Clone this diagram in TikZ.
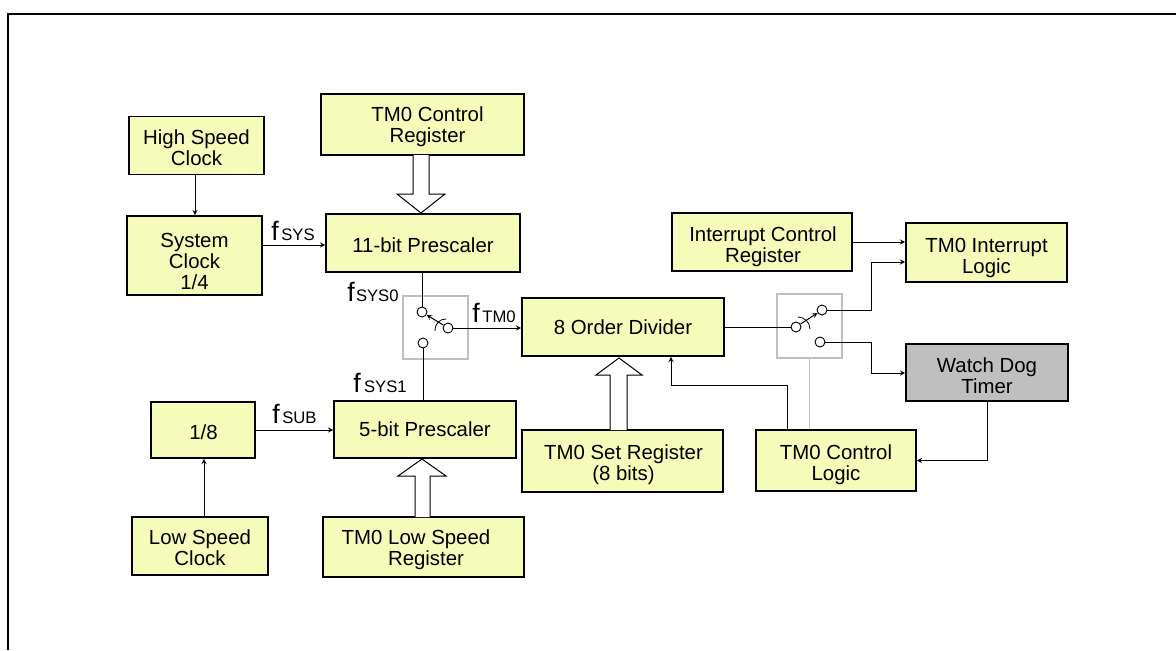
\documentclass[tikz,border=0pt]{standalone}
\usepackage{fontspec}
\setmainfont{Liberation Sans}
\usetikzlibrary{arrows}
\definecolor{boxyellow}{HTML}{F5FBB9}
\definecolor{boxgray}{HTML}{BFBFBF}
\tikzstyle{block}=[rectangle,draw,line width=1.3pt,inner sep=0pt]
\tikzstyle{blocktext}=[inner sep=0pt,align=center,font=\fontsize{15.3}{15.75}\selectfont]
\tikzstyle{contact}=[circle,draw,fill=white,line width=0.7pt,minimum size=7.5pt,inner sep=0pt]
\tikzstyle{switchbox}=[rectangle,draw=boxgray,line width=1.3pt,inner sep=0pt]
\tikzstyle{signal}=[draw,->,>=stealth,line width=0.75pt]
\tikzstyle{wire}=[draw,-,line width=0.75pt]
\tikzstyle{hollow}=[draw,fill=white,line width=0.75pt]
\newcommand{\freq}[2]{{\fontsize{20}{20}\selectfont f}\hspace{#1}{\fontsize{12.5}{12.5}\selectfont #2}}
\tikzstyle{freqlabel}=[anchor=base west,inner sep=0pt]
\begin{document}
\begin{tikzpicture}[x=0.75pt,y=-0.75pt]
      \useasboundingbox (0,0) rectangle (1176,650);
      \draw[line width=1.5pt] (1176,14) -- (8,14) -- (8,650);
      %blocks
      \foreach \blockname/\x/\y/\w/\h/\tint/\dx/\dy/\label in {
        hsclock/196.5/145.5/135/58/boxyellow/0/2.5/{High Speed\\Clock},
        sysclock/194.5/255.5/135/79/boxyellow/0/6/{System\\Clock\\1/4},
        tmcreg/422.5/124.5/203/61/boxyellow/5/2/{TM0 Control\\Register},
        pre11/423/243/194/58/boxyellow/0/2/{11-bit Prescaler},
        divider/623/327/202/58/boxyellow/0/0/{8 Order Divider},
        pre5/425/429.5/182/57/boxyellow/0/0/{5-bit Prescaler},
        div8/203/430/104/56/boxyellow/0.5/2/{1/8},
        lsclock/200/546/136/58/boxyellow/0/2/{Low Speed\\Clock},
        tmlreg/423.5/547/201/60/boxyellow/-7.5/3/{TM0 Low Speed\\\hspace*{15pt}Register},
        tmsreg/622.5/461/201/62/boxyellow/1/4/{TM0 Set Register\\(8 bits)},
        tmclogic/836/460.5/160/61/boxyellow/0/4/{TM0 Control\\Logic},
        wdtimer/987/372.5/162/57/boxgray/0/3/{Watch Dog\\Timer},
        intreg/762/242/180/58/boxyellow/1/4.5/{Interrupt Control\\Register},
        tmint/986.5/252.5/161/59/boxyellow/0/5.5/{TM0 Interrupt\\Logic}}
      {
        \node[block, fill=\tint, minimum width=\w*0.75pt, minimum height=\h*0.75pt] (\blockname) at (\x,\y) {};
        \node[blocktext] at ([shift={(\dx,\dy)}]\blockname.center) {\label};
      };
      %switches
      \node[switchbox, minimum width=48.75pt, minimum height=47.25pt] (sw1box) at (435.5,327.5) {};
      \node[switchbox, minimum width=48.75pt, minimum height=48pt] (sw2box) at (809.5,326) {};
      \foreach \contactname/\x/\y in {
        sw1a/422/312, sw1b/448/328, sw1c/423/343,
        sw2a/796/327, sw2b/822/310, sw2c/820/342}
      {
        \node[contact] (\contactname) at (\x,\y) {};
      };
      \draw[signal] (sw1b) -- (sw1a);
      \draw[signal] (sw2a) -- (sw2b);
      \draw[line width=0.6pt] (446,319) .. controls (440,319) and (435,323) .. (435,331);
      \draw[line width=0.6pt] (798,317) .. controls (804,317) and (810,322) .. (810,329);
      %rails
      \coordinate (railsys) at (195,245);
      \coordinate (railsub) at (204,430);
      \coordinate (railint) at (871,262);
      \coordinate (railwdt) at (871,373);
      \coordinate (raillogic) at (787,385);
      \coordinate (raildiv) at (671,385);
      %edges
      \path[signal] (hsclock.south -| railsys) -- (sysclock.north -| railsys);
      \path[signal] (sysclock.east |- railsys) -- (pre11.west |- railsys);
      \path[signal] (lsclock.north -| railsub) -- (div8.south -| railsub);
      \path[signal] (div8.east |- railsub) -- (pre5.west |- railsub);
      \path[wire] (pre11.south -| sw1a) -- (sw1a);
      \path[wire] (pre5.north -| sw1c) -- (sw1c);
      \path[signal] (sw1b) -- (divider.west |- sw1b);
      \path[wire] (divider.east |- sw2a) -- (sw2a);
      \path[signal] (intreg.east) -- (tmint.west |- intreg.east);
      \path[signal] (sw2b) -- (railint |- sw2b) -- (railint) -- (tmint.west |- railint);
      \path[signal] (sw2c) -- (railwdt |- sw2c) -- (railwdt) -- (wdtimer.west |- railwdt);
      \path[signal] (wdtimer.south) |- (tmclogic.east);
      \path[signal] (tmclogic.north -| raillogic) -- (raillogic) -- (raildiv) -- (divider.south -| raildiv);
      \draw[line width=1.3pt,draw=boxgray] (sw2box.south) -- (sw2box.south |- tmclogic.north);
      %bus arrows
      \draw[hollow] (413,155) -- (413,194) -- (397,194) -- (421,213) -- (445,194) -- (429,194) -- (429,155);
      \draw[hollow] (415,517) -- (415,476) -- (398,476) -- (422,459) -- (446,476) -- (430,476) -- (430,517);
      \draw[hollow] (610,430) -- (610,375) -- (596,375) -- (619,358) -- (642,375) -- (627,375) -- (627,430);
      %labels
      \foreach \labelname/\x/\y/\gap/\sub in {
        fsys/271/240/2pt/SYS, fsysa/347/301/1pt/SYS0, ftm/472/322/2pt/TM0,
        fsysb/353/392/2.5pt/SYS1, fsub/272/423/2pt/SUB}
      {
        \node[freqlabel] (\labelname) at (\x,\y) {\freq{\gap}{\sub}};
      };
\end{tikzpicture}
\end{document}
